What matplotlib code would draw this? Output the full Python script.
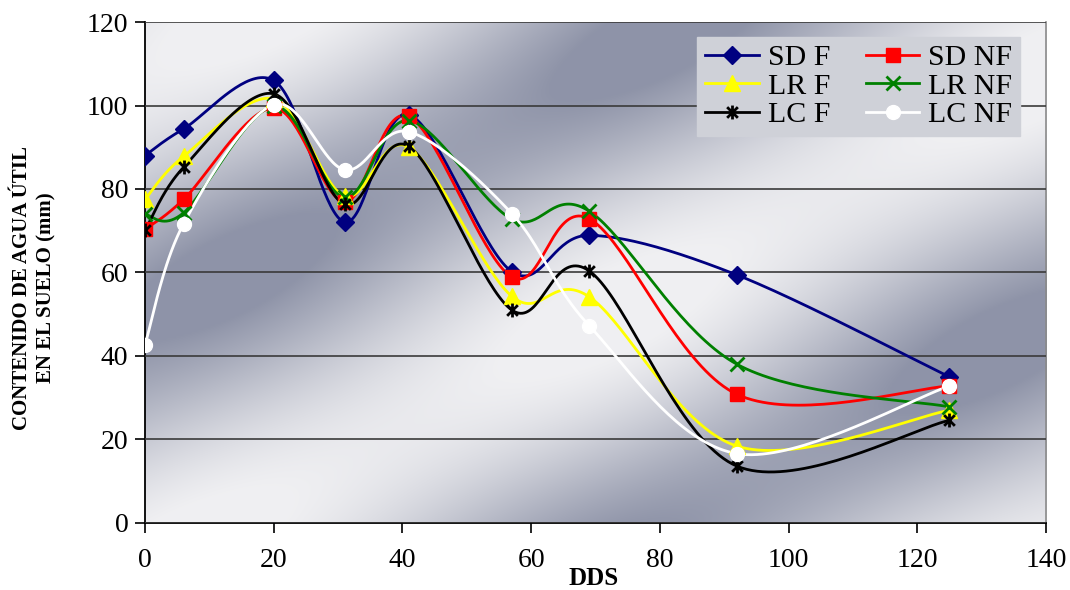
import numpy as np
import matplotlib
matplotlib.use('Agg')
import matplotlib.pyplot as plt
from matplotlib.path import Path
from matplotlib.lines import Line2D

# ---------------- data ----------------
dds = [0, 6, 20, 31, 41, 57, 69, 92, 125]
sd_f = [88.0, 94.4, 106.0, 72.1, 97.8, 60.2, 68.9, 59.4, 35.0]
sd_nf = [70.3, 77.5, 99.4, 77.0, 97.4, 58.9, 72.9, 30.8, 32.8]
lr_f = [77.5, 87.8, 101.6, 78.3, 90.0, 54.3, 54.2, 18.4, 27.0]
lr_nf = [73.9, 74.3, 99.8, 78.0, 96.4, 72.8, 74.7, 38.0, 27.8]
lc_f = [70.1, 85.2, 102.8, 76.3, 90.2, 51.0, 60.4, 13.6, 24.6]
lc_nf = [42.7, 71.7, 100.2, 84.6, 93.7, 74.1, 47.3, 16.6, 32.8]
series_names = ["SD F", "SD NF", "LR F", "LR NF", "LC F", "LC NF"]
x_ticks = [0, 20, 40, 60, 80, 100, 120, 140]
y_ticks = [0, 20, 40, 60, 80, 100, 120]

plt.rcParams['font.family'] = ['Liberation Serif', 'DejaVu Serif']


def smooth(xs, ys, n=40):
    P = np.column_stack([xs, ys]).astype(float)
    m = len(P)
    out = []
    for i in range(m - 1):
        p0 = P[i - 1] if i > 0 else P[i]
        p1 = P[i]
        p2 = P[i + 1]
        p3 = P[i + 2] if i + 2 < m else P[i + 1]
        c1 = p1 + (p2 - p0) / 6.0
        c2 = p2 - (p3 - p1) / 6.0
        t = np.linspace(0, 1, n)[:, None]
        seg = ((1 - t) ** 3) * p1 + 3 * ((1 - t) ** 2) * t * c1 + 3 * (1 - t) * t ** 2 * c2 + t ** 3 * p2
        if i > 0:
            seg = seg[1:]
        out.append(seg)
    out = np.vstack(out)
    return out[:, 0], out[:, 1]


star = Path([(-1, -1), (1, 1), (-1, 1), (1, -1), (0, -1.3), (0, 1.3)],
            [Path.MOVETO, Path.LINETO, Path.MOVETO, Path.LINETO, Path.MOVETO, Path.LINETO])

styles = {
    "SD F": dict(color='#000080', marker='D', ms=9, mfc='#000080', mec='#000080', mew=1),
    "SD NF": dict(color='#ff0000', marker='s', ms=10, mfc='#ff0000', mec='#ff0000', mew=1),
    "LR F": dict(color='#ffff00', marker='^', ms=11, mfc='#ffff00', mec='#ffff00', mew=1),
    "LR NF": dict(color='#008000', marker='x', ms=10, mfc='#008000', mec='#008000', mew=2),
    "LC F": dict(color='#000000', marker=star, ms=10, mfc='#000000', mec='#000000', mew=2),
    "LC NF": dict(color='#ffffff', marker='o', ms=10, mfc='#ffffff', mec='#ffffff', mew=1),
}
data = {"SD F": sd_f, "SD NF": sd_nf, "LR F": lr_f, "LR NF": lr_nf, "LC F": lc_f, "LC NF": lc_nf}

fig = plt.figure(figsize=(10.7, 5.9), dpi=100)
ax = fig.add_axes([0.1355, 0.1136, 0.8421, 0.8491])

# metallic gradient background
nx, ny = 400, 250
xx, yy = np.meshgrid(np.linspace(0, 1, nx), np.linspace(1, 0, ny))
d = xx - yy
b = 0.5 + 0.5 * np.cos(2 * np.pi * (d - 0.1) / 1.0)
b = b + 0.08 * np.cos(2 * np.pi * (xx + 0.6 * yy) * 1.3)
b = np.clip(b, 0, 1) ** 0.8
dark = np.array([0.56, 0.58, 0.66])
light = np.array([0.94, 0.94, 0.95])
img = dark[None, None, :] + (light - dark)[None, None, :] * b[:, :, None]
ax.imshow(img, extent=[0, 140, 0, 120], aspect='auto', zorder=0, interpolation='bilinear')

for name in series_names:
    st = styles[name]
    ys = data[name]
    sx, sy = smooth(dds, ys)
    ax.plot(sx, sy, color=st['color'], lw=2.0, zorder=3, solid_capstyle='round')
    ax.plot(dds, ys, linestyle='none', marker=st['marker'], ms=st['ms'],
            mfc=st['mfc'], mec=st['mec'], mew=st['mew'], zorder=4)

ax.set_xlim(0, 140)
ax.set_ylim(0, 120)
ax.set_xticks(x_ticks)
ax.set_yticks(y_ticks)
ax.yaxis.grid(True, color='#3a3a3a', lw=1.2, zorder=1)
ax.set_axisbelow(False)
ax.tick_params(axis='both', direction='out', length=7, width=1.2, labelsize=20, colors='black', pad=5)
ax.tick_params(axis='x', pad=11)
ax.spines['left'].set_linewidth(1.3)
ax.spines['bottom'].set_linewidth(1.3)
ax.spines['top'].set_visible(False)
ax.spines['right'].set_color('#8a8a8a')
ax.spines['right'].set_linewidth(1.2)

ax.set_xlabel("DDS", fontsize=18, fontweight='bold')
ax.xaxis.set_label_coords(0.498, -0.088)
ax.set_ylabel("CONTENIDO DE AGUA ÚTIL\nEN EL SUELO (mm)", fontsize=15, fontweight='bold',
              linespacing=1.3)
ax.yaxis.set_label_coords(-0.098, 0.47)

handles = []
labels = []
for name in ["SD F", "LR F", "LC F", "SD NF", "LR NF", "LC NF"]:
    st = styles[name]
    handles.append(Line2D([], [], color=st['color'], lw=2.0, marker=st['marker'], ms=st['ms'],
                          mfc=st['mfc'], mec=st['mec'], mew=st['mew']))
    labels.append(name)
leg = ax.legend(handles, labels, ncol=2, loc='upper right', bbox_to_anchor=(0.971, 0.970),
                borderaxespad=0, fontsize=21.5, frameon=True, fancybox=False, handlelength=1.8,
                columnspacing=1.2, labelspacing=0.05, handletextpad=0.3, borderpad=0.25)
leg.get_frame().set_facecolor('#cfd1d8')
leg.get_frame().set_edgecolor('#cfd1d8')
leg.get_frame().set_alpha(1)
leg.set_zorder(6)

fig.savefig("out.png", dpi=100, facecolor='white')
